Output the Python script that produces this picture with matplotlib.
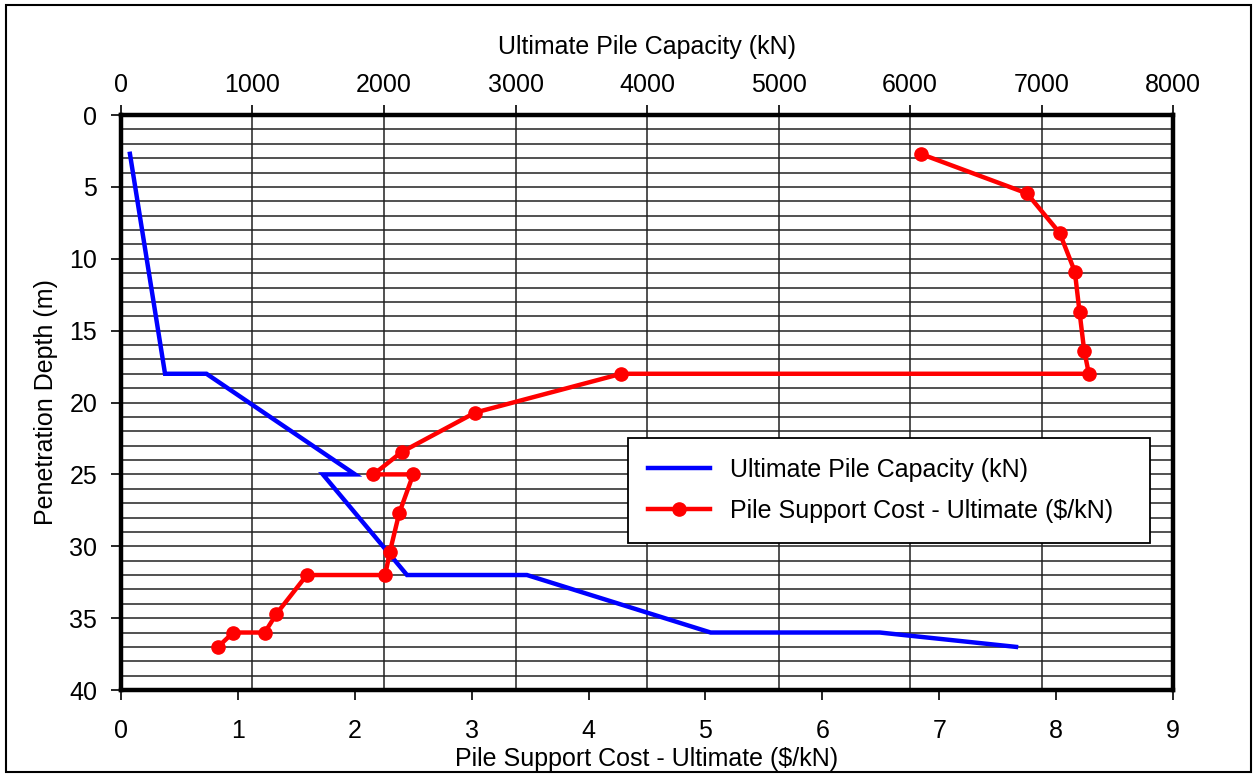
import matplotlib.pyplot as plt
from matplotlib.patches import Rectangle
from matplotlib.ticker import MultipleLocator

plt.rcParams['font.family'] = ['Liberation Sans', 'DejaVu Sans']

# ---- data ----
cap_depth = [2.7, 18.0, 18.0, 25.0, 25.0, 32.0, 32.0, 36.0, 36.0, 37.0]
cap_kn = [68, 335, 650, 1780, 1535, 2175, 3087, 4484, 5770, 6806]

cost_depth = [2.7, 5.45, 8.2, 10.9, 13.7, 16.4, 18.0, 18.0, 20.7, 23.45, 25.0, 25.0,
              27.7, 30.4, 32.0, 32.0, 34.7, 36.0, 36.0, 37.0]
cost_per_kn = [6.84, 7.75, 8.03, 8.16, 8.20, 8.24, 8.28, 4.28, 3.03, 2.40, 2.16, 2.50,
               2.38, 2.30, 2.26, 1.59, 1.33, 1.23, 0.96, 0.83]

FS = 18

fig = plt.figure(figsize=(12.55, 7.74), dpi=100)
ax = fig.add_axes([0.0964, 0.1085, 0.8383, 0.7429])
ax2 = ax.twiny()

# capacity on the top axis (this axes carries the grid)
ax.plot(cap_kn, cap_depth, color='#0000ff', lw=3.2, solid_joinstyle='miter',
        label='Ultimate Pile Capacity (kN)')
ax.set_xlim(0, 8000)
ax.set_ylim(40, 0)
ax.xaxis.tick_top()
ax.xaxis.set_label_position('top')
ax.set_xlabel('Ultimate Pile Capacity (kN)', fontsize=FS, labelpad=14)
ax.set_ylabel('Penetration Depth (m)', fontsize=FS, labelpad=8)
ax.xaxis.set_major_locator(MultipleLocator(1000))
ax.yaxis.set_major_locator(MultipleLocator(5))
ax.yaxis.set_minor_locator(MultipleLocator(1))
ax.tick_params(axis='both', which='major', direction='out', length=7, width=1.2,
               labelsize=FS, color='black')
ax.tick_params(axis='y', which='minor', length=0)
ax.tick_params(axis='y', which='major', pad=10)
ax.tick_params(axis='x', which='major', pad=6)
ax.grid(True, axis='x', which='major', color='#222222', lw=1.1)
ax.grid(True, axis='y', which='both', color='#222222', lw=1.1)
for s in ax.spines.values():
    s.set_linewidth(3.2)

# cost on the bottom axis
ax2.plot(cost_per_kn, cost_depth, color='#ff0000', lw=3.2, marker='o', ms=9.5,
         label='Pile Support Cost - Ultimate ($/kN)')
ax2.set_xlim(0, 9)
ax2.set_ylim(40, 0)
ax2.xaxis.tick_bottom()
ax2.xaxis.set_label_position('bottom')
ax2.xaxis.set_major_locator(MultipleLocator(1))
ax2.set_xlabel('Pile Support Cost - Ultimate ($/kN)', fontsize=FS, labelpad=3)
ax2.tick_params(axis='x', direction='out', length=7, width=1.2, labelsize=FS, pad=14)
for s in ax2.spines.values():
    s.set_visible(False)

h1, l1 = ax.get_legend_handles_labels()
h2, l2 = ax2.get_legend_handles_labels()
leg = ax2.legend(h1 + h2, l1 + l2, loc='center', bbox_to_anchor=(0.482, 0.257, 0.496, 0.18),
                 mode='expand', borderaxespad=0, fontsize=FS, frameon=True, fancybox=False,
                 framealpha=1, edgecolor='black', handlelength=2.5, borderpad=0.78,
                 labelspacing=0.7)
leg.get_frame().set_linewidth(1.3)

fig.patches.append(Rectangle((6 / 1255, 2 / 774), 1245 / 1255, 767 / 774,
                             transform=fig.transFigure, fill=False, edgecolor='black', lw=1.5))

fig.savefig('out.png', dpi=100)
